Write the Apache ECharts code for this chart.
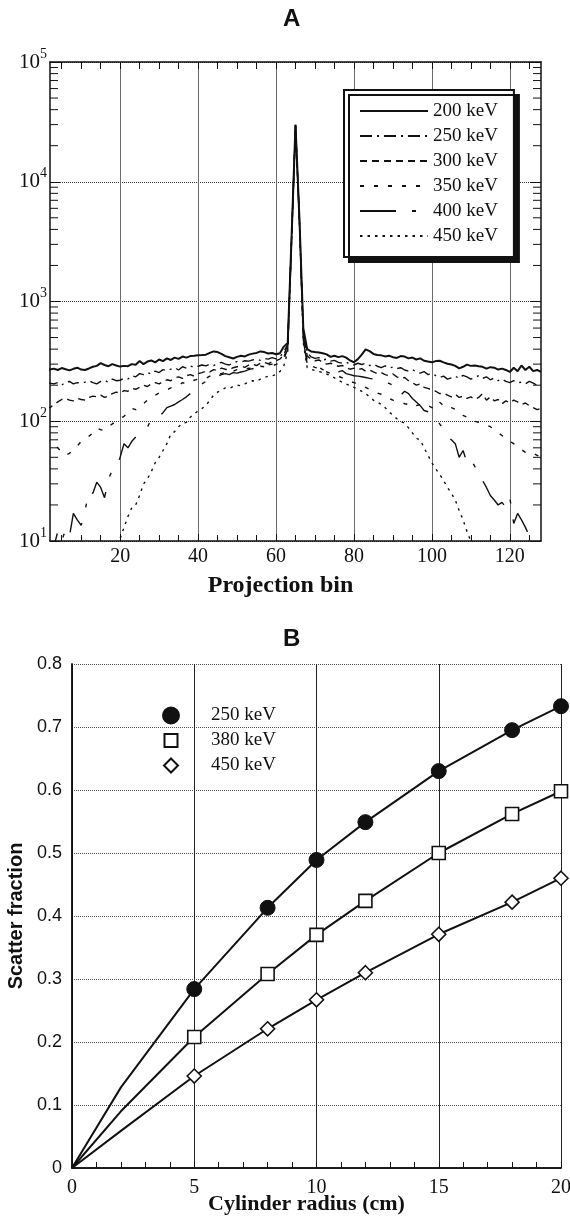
<!DOCTYPE html>
<html><head><meta charset="utf-8">
<script src="https://cdn.jsdelivr.net/npm/echarts@6/dist/echarts.min.js"></script>
<style>html,body{margin:0;padding:0;background:#fff}#c{width:570px;height:1216px}</style>
</head><body><div id="c"></div><script>
// ---------- Panel A data (projection bins 1..128) ----------
const binStart = 1;
const xTickLabelsA = [20, 40, 60, 80, 100, 120];
const xMinorTicksA = [5,10,15,20,25,30,35,40,45,50,55,60,65,70,75,80,85,90,95,100,105,110,115,120,125];
const logMinorFactors = [2,3,4,5,6,7,8,9];
const logDecades = [10, 100, 1000, 10000];

const S200 = [272,270,275,268,278,272,266,274,280,270,268,276,
285,290,306,295,288,300,292,286,290,288,300,296,
318,300,315,322,310,328,318,335,325,340,332,347,
340,350,352,355,357,360,372,383,378,365,350,342,
334,345,352,348,360,367,372,383,378,368,372,363,
370,420,450,3500,30000,5000,600,400,383,378,375,370,
362,345,352,343,350,340,322,311,330,360,398,385,
365,358,355,348,352,343,338,350,347,335,340,328,
335,320,315,311,318,320,310,302,298,290,276,285,
297,290,292,288,285,275,283,280,270,275,268,258,
280,262,292,268,285,262,268,258];

const S250 = [212,208,205,210,200,212,215,205,210,208,212,218,
210,205,215,220,212,225,218,220,228,225,240,235,
250,245,255,248,262,255,270,265,272,280,268,285,
278,290,282,288,295,290,300,292,305,310,300,295,
308,315,312,320,318,325,330,322,335,330,340,332,
345,380,440,3400,29500,4900,560,370,345,335,340,325,
330,318,322,310,305,312,300,295,305,298,305,292,
300,288,280,290,278,284,275,280,268,262,270,258,
252,260,245,250,240,232,238,225,230,238,228,242,
235,225,232,240,228,235,222,230,218,225,215,210,
218,210,212,205,215,208,200,205];

const S300 = [132,130,138,145,152,155,150,148,155,152,150,158,
162,160,165,158,162,170,175,172,180,178,188,185,
192,200,195,205,210,205,215,222,218,230,235,228,
240,245,238,250,255,262,258,270,265,278,272,268,
280,285,290,282,295,300,292,305,310,302,315,320,
330,360,430,3400,29500,4900,540,350,330,320,325,310,
300,305,295,288,292,280,272,278,270,275,262,268,
258,250,255,245,240,248,235,228,232,218,210,200,
205,192,188,182,178,170,172,165,160,168,158,162,
155,160,152,158,170,150,160,148,152,140,148,142,
150,145,138,142,135,130,125,128];

const S350 = [72,68,65,60,55,52,54,58,62,68,72,75,
80,88,85,84,90,95,100,105,110,118,128,125,
130,140,150,158,165,172,175,182,190,195,200,210,
205,215,220,225,230,228,238,242,248,250,258,255,
262,270,265,272,278,275,282,288,285,292,290,298,
310,340,420,3400,29500,4900,520,320,290,282,275,268,
258,250,245,238,230,222,215,210,205,198,192,185,
178,172,168,160,155,150,148,145,140,138,142,135,
138,132,135,130,128,144,135,128,130,126,118,112,
108,102,100,98,95,93,90,85,80,76,72,68,
65,60,58,55,56,54,52,50];

const S400 = [6,7,9,12,10,12.5,11,17,15,13.5,18,26,
25,31,28,23,33,39,41,50,65,60,68,74,
80,84,89,105,106,110,118,130,134,138,145,152,
160,170,178,182,205,215,230,240,238,245,250,245,
255,252,258,262,270,275,272,280,290,295,300,295,
305,330,400,3300,29000,4800,480,300,290,275,282,270,
265,275,262,258,265,250,245,240,238,235,232,228,
225,222,215,210,207,200,192,165,178,170,155,145,
135,123,120,117,106,95,85,74,70,65,50,57,
45,48,42,38,32,28,24,22,20,21,19,23,
14,17,15,13,11,9,8,7];

const S450 = [null,null,null,null,null,null,null,null,null,null,null,null,
null,null,null,null,null,null,8,10.5,13,16,19,20,
24,30,33,38,45,50,57,65,78,82,90,96,
98,108,115,122,128,135,150,165,175,182,190,188,
195,200,198,205,212,218,215,225,232,238,240,245,
260,290,380,3300,29000,4800,450,280,272,265,260,255,
248,240,230,220,212,205,198,192,185,178,170,160,
150,145,138,130,120,112,105,100,96,88,80,72,
70,60,52,45,40,36,32,28,25,22,18,15,
12,10,8,null,null,null,null,null,null,null,null,null,
null,null,null,null,null,null,null,null];

// ---------- Panel B data ----------
const radius = [0, 2, 5, 8, 10, 12, 15, 18, 20];
const sf250 = [0, 0.128, 0.284, 0.413, 0.489, 0.549, 0.630, 0.695, 0.733];
const sf380 = [0, 0.090, 0.208, 0.308, 0.370, 0.424, 0.500, 0.562, 0.598];
const sf450 = [0, 0.059, 0.146, 0.221, 0.267, 0.310, 0.371, 0.422, 0.460];
const firstMarked = 2; // first two points are curve-only (no marker)

// ---------- build ----------
const xMinA = 2, xMaxA = 128;
const toXY = arr => arr.map((v, i) => [i + binStart, v]);
const logMinor = [];
logDecades.forEach(d => logMinorFactors.forEach(f => logMinor.push(d * f)));

const SERIF = 'Liberation Serif', SANS = 'Liberation Sans';
const INK = '#111';

function lineA(name, data, width, type) {
  return {
    name, type: 'line', xAxisIndex: 0, yAxisIndex: 0, data: toXY(data),
    symbol: 'none', showSymbol: false, connectNulls: false, clip: true,
    lineStyle: { color: INK, width: width, type: type },
    itemStyle: { color: INK }, z: 5
  };
}
function lineB(name, ys, sym, size, filled) {
  return {
    name, type: 'line', xAxisIndex: 3, yAxisIndex: 2,
    data: radius.map((x, i) => ({ value: [x, ys[i]], symbol: i < firstMarked ? 'none' : sym })),
    symbol: sym, symbolSize: size, showSymbol: true,
    lineStyle: { color: INK, width: 2 },
    itemStyle: filled ? { color: INK, borderColor: INK, borderWidth: 1 }
                      : { color: '#fff', borderColor: INK, borderWidth: 1.6 },
    z: 5
  };
}

const legendText = { fontFamily: SERIF, fontSize: 19, lineHeight: 20, color: INK };
// marker centred at x=170, label text starting at x=210
function legendB(name, icon, centerY, size) {
  const gap = 210 - (170 + size / 2) - 5;
  return {
    data: [{ name: name, icon: icon }], orient: 'vertical',
    left: 170 - size / 2, top: centerY - 10,
    padding: 0, itemWidth: size, itemHeight: size, selectedMode: false,
    formatter: n => '{g|}{t|' + n.replace(/^B /, '') + '}',
    textStyle: { fontFamily: SERIF, fontSize: 19, color: INK,
      rich: { g: { width: gap, height: 20 }, t: { fontFamily: SERIF, fontSize: 19, lineHeight: 20, color: INK } } }
  };
}

const chart = echarts.init(document.getElementById('c'), null, { renderer: 'canvas' });
chart.setOption({
  animation: false,
  backgroundColor: '#fff',
  title: [
    { text: 'A', left: 278, top: 2, textStyle: { fontFamily: SANS, fontSize: 24, fontWeight: 'bold', color: INK } },
    { text: 'B', left: 278, top: 622, textStyle: { fontFamily: SANS, fontSize: 24, fontWeight: 'bold', color: INK } }
  ],
  grid: [
    { left: 50, top: 62, width: 491, height: 479, containLabel: false, outerBoundsMode: 'none' },
    { left: 72, top: 664, width: 489, height: 504, containLabel: false, outerBoundsMode: 'none' }
  ],
  legend: [
    {
      data: ['200 keV', '250 keV', '300 keV', '350 keV', '400 keV', '450 keV'],
      orient: 'vertical', left: 344, top: 90, padding: [11, 16, 11, 15],
      itemWidth: 68, itemHeight: 14, itemGap: 5, selectedMode: false,
      itemStyle: { color: 'rgba(0,0,0,0)', borderColor: 'rgba(0,0,0,0)', borderWidth: 0, opacity: 0 },
      backgroundColor: '#fff', borderColor: INK, borderWidth: 2,
      shadowColor: INK, shadowBlur: 0, shadowOffsetX: 5, shadowOffsetY: 5,
      textStyle: legendText
    },
    legendB('B 250 keV', 'circle', 716, 16),
    legendB('B 380 keV', 'rect', 741, 13),
    legendB('B 450 keV', 'diamond', 766, 14)
  ],
  xAxis: [
    { // 0: panel A main bottom axis
      gridIndex: 0, type: 'value', min: xMinA, max: xMaxA, position: 'bottom',
      name: 'Projection bin', nameLocation: 'middle', nameGap: 33,
      nameTextStyle: { fontFamily: SERIF, fontSize: 24, fontWeight: 'bold', color: INK, padding: [0, 30, 0, 0] },
      axisLine: { show: true, lineStyle: { color: INK, width: 1.5 } },
      axisTick: { show: true, inside: true, length: 7, customValues: xTickLabelsA, lineStyle: { color: INK } },
      axisLabel: { customValues: xTickLabelsA, fontFamily: SERIF, fontSize: 20, color: INK, margin: 6 },
      splitLine: { show: true, lineStyle: { color: '#6a6a6a', width: 1, type: 'solid' } }
    },
    { // 1: panel A minor ticks bottom
      gridIndex: 0, type: 'value', min: xMinA, max: xMaxA, position: 'bottom',
      axisLine: { show: false },
      axisTick: { show: true, inside: true, length: 6, customValues: xMinorTicksA, lineStyle: { color: INK } },
      axisLabel: { show: false }, splitLine: { show: false }
    },
    { // 2: panel A top border + ticks
      gridIndex: 0, type: 'value', min: xMinA, max: xMaxA, position: 'top',
      axisLine: { show: true, lineStyle: { color: INK, width: 1.5 } },
      axisTick: { show: true, inside: true, length: 7, customValues: xMinorTicksA, lineStyle: { color: INK } },
      axisLabel: { show: false }, splitLine: { show: false }
    },
    { // 3: panel B main x axis
      gridIndex: 1, type: 'value', min: 0, max: 20, interval: 5, position: 'bottom',
      name: 'Cylinder radius (cm)', nameLocation: 'middle', nameGap: 25, nameMoveOverlap: false,
      nameTextStyle: { fontFamily: SERIF, fontSize: 22, fontWeight: 'bold', color: INK, padding: [0, 20, 0, 0] },
      axisLine: { show: true, lineStyle: { color: INK, width: 1.5 } },
      axisTick: { show: true, inside: true, length: 6, lineStyle: { color: INK } },
      minorTick: { show: true, splitNumber: 5, length: 6, lineStyle: { color: INK } },
      axisLabel: { fontFamily: SERIF, fontSize: 20, color: INK, margin: 10 },
      splitLine: { show: true, lineStyle: { color: '#222', width: 1 } }
    },
    { // 4: panel B top border
      gridIndex: 1, type: 'value', min: 0, max: 20, position: 'top',
      axisLine: { show: true, lineStyle: { color: INK, width: 1.5 } },
      axisTick: { show: false }, axisLabel: { show: false }, splitLine: { show: false }
    }
  ],
  yAxis: [
    { // 0: panel A log left
      gridIndex: 0, type: 'log', logBase: 10, min: 10, max: 100000, position: 'left',
      axisLine: { show: true, lineStyle: { color: INK, width: 1.5 } },
      axisTick: { show: true, inside: true, length: 10, lineStyle: { color: INK } },
      axisLabel: {
        margin: 3, color: INK,
        formatter: v => '{b|10}{s|' + Math.round(Math.log10(v)) + '}',
        rich: {
          b: { fontFamily: SERIF, fontSize: 21, lineHeight: 20, color: INK },
          s: { fontFamily: SERIF, fontSize: 14, color: INK, padding: [0, 0, 16, 0] }
        }
      },
      splitLine: { show: true, lineStyle: { color: '#333', width: 1, type: 'dotted' } }
    },
    { // 1: panel A right border
      gridIndex: 0, type: 'log', logBase: 10, min: 10, max: 100000, position: 'right',
      axisLine: { show: true, lineStyle: { color: INK, width: 1.5 } },
      axisTick: { show: true, inside: true, length: 10, lineStyle: { color: INK } },
      axisLabel: { show: false }, splitLine: { show: false }
    },
    { // 2: panel B left
      gridIndex: 1, type: 'value', min: 0, max: 0.8, interval: 0.1, position: 'left',
      name: 'Scatter fraction', nameLocation: 'middle', nameGap: 36, nameRotate: 90,
      nameTextStyle: { fontFamily: SANS, fontSize: 20, fontWeight: 'bold', color: INK },
      axisLine: { show: true, lineStyle: { color: INK, width: 1.5 } },
      axisTick: { show: false },
      axisLabel: { fontFamily: SANS, fontSize: 18, color: INK, margin: 10,
        formatter: v => (v === 0 ? '0' : v.toFixed(1)) },
      splitLine: { show: true, lineStyle: { color: '#555', width: 1, type: 'dotted' } }
    },
    { // 3: panel B right border
      gridIndex: 1, type: 'value', min: 0, max: 0.8, position: 'right',
      axisLine: { show: true, lineStyle: { color: INK, width: 1.5 } },
      axisTick: { show: false }, axisLabel: { show: false }, splitLine: { show: false }
    }
  ],
  series: [
    lineA('200 keV', S200, 2, 'solid'),
    lineA('250 keV', S250, 1.4, [12, 5, 2, 5]),
    lineA('300 keV', S300, 1.4, [7, 5]),
    lineA('350 keV', S350, 1.4, [4, 10]),
    lineA('400 keV', S400, 1.4, [36, 16, 4, 16]),
    lineA('450 keV', S450, 1.4, [2.5, 5]),
    {
      type: 'custom', xAxisIndex: 0, yAxisIndex: 0, silent: true, clip: false, z: 10,
      data: logMinor.map(v => [xMinA, v]),
      encode: { x: 0, y: 1 },
      renderItem: (params, api) => {
        const y = api.value(1);
        const L = api.coord([xMinA, y]);
        const R = api.coord([xMaxA, y]);
        return { type: 'group', children: [
          { type: 'line', shape: { x1: L[0], y1: L[1], x2: L[0] + 8, y2: L[1] }, style: { stroke: INK, lineWidth: 1 } },
          { type: 'line', shape: { x1: R[0] - 8, y1: R[1], x2: R[0], y2: R[1] }, style: { stroke: INK, lineWidth: 1 } }
        ] };
      }
    },
    lineB('B 250 keV', sf250, 'circle', 15, true),
    lineB('B 380 keV', sf380, 'rect', 13, false),
    lineB('B 450 keV', sf450, 'diamond', 14, false)
  ]
});
</script></body></html>
